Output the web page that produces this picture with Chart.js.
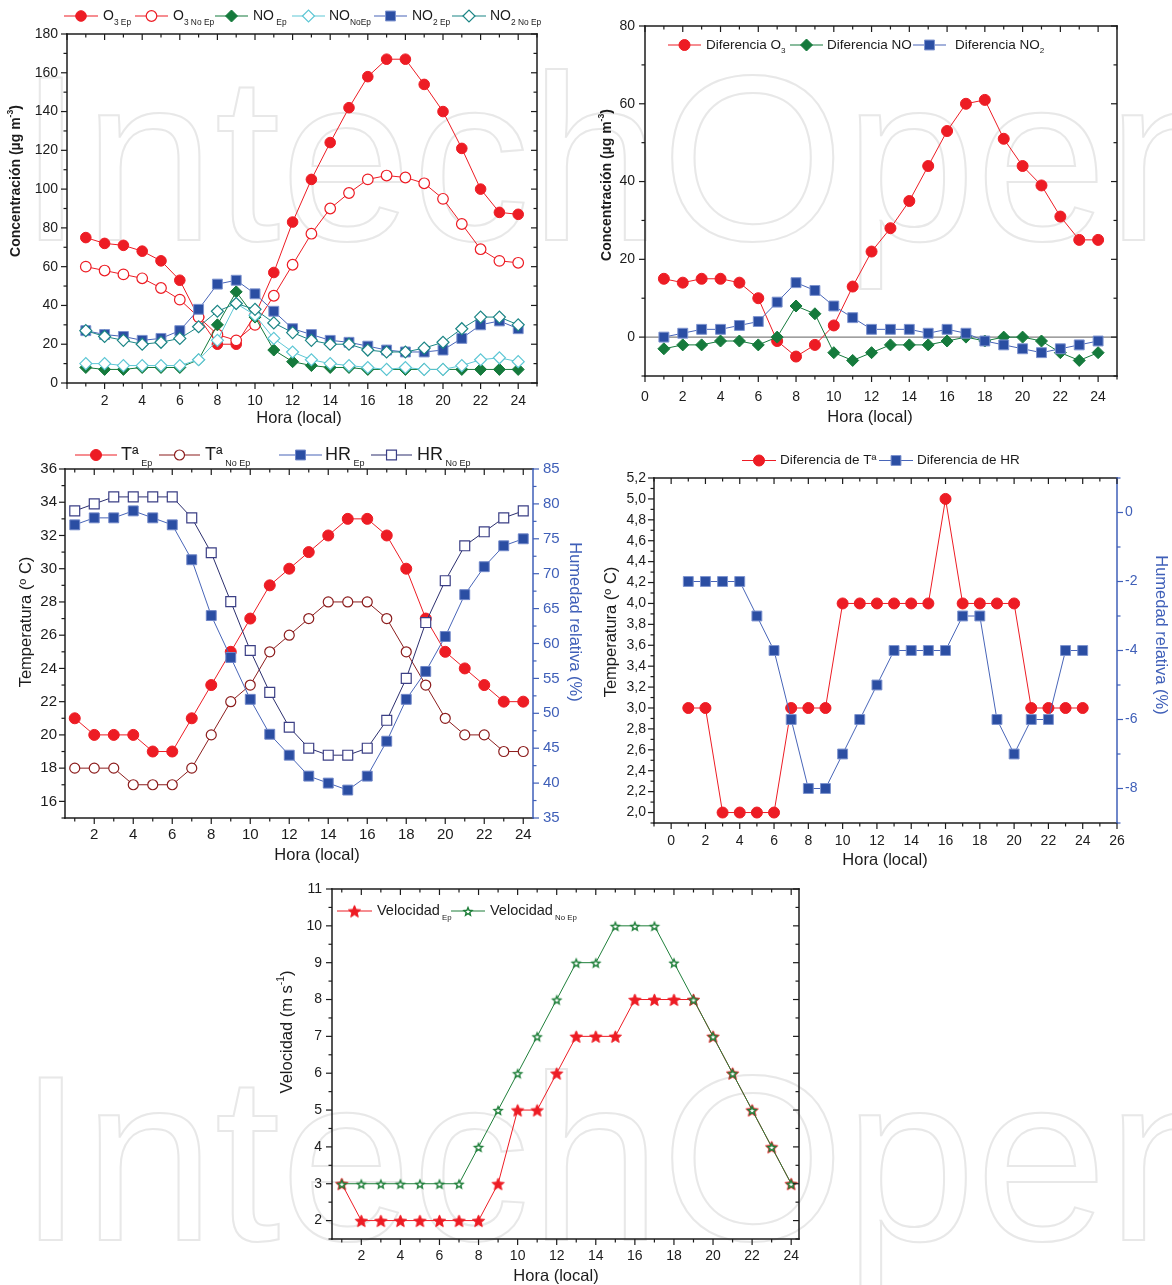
<!DOCTYPE html>
<html>
<head>
<title>Concentraciones y meteorología - Ep / No Ep</title>
<script src="https://cdn.jsdelivr.net/npm/chart.js"></script>
<style>
    body { margin: 0; background: #fff; }
    #page { position: relative; width: 1172px; height: 1285px; overflow: hidden; }
    canvas { position: absolute; }
    .wm {
        position: absolute; left: 18px; white-space: nowrap; line-height: 1;
        font-family: 'Liberation Sans', Arial, sans-serif; font-size: 236px;
        color: transparent; -webkit-text-stroke: 2px #e8e8e8;
    }
</style>
</head>
<body>
<div id="page">
    <div class="wm" style="top:40px">IntechOpen</div>
    <div class="wm" style="top:1040px">IntechOpen</div>
    <canvas id="c1" width="560" height="432" style="left:0;top:0"></canvas>
    <canvas id="c2" width="586" height="432" style="left:586px;top:0"></canvas>
    <canvas id="c3" width="590" height="434" style="left:0;top:436px"></canvas>
    <canvas id="c4" width="582" height="434" style="left:590px;top:436px"></canvas>
    <canvas id="c5" width="540" height="413" style="left:270px;top:872px"></canvas>
</div>

<script>
    // ---------- data ----------
    const hours = [1, 2, 3, 4, 5, 6, 7, 8, 9, 10, 11, 12, 13, 14, 15, 16, 17, 18, 19, 20, 21, 22, 23, 24];

    // concentraciones (ug m-3)
    const o3Ep    = [75, 72, 71, 68, 63, 53, 34, 20, 20, 35, 57, 83, 105, 124, 142, 158, 167, 167, 154, 140, 121, 100, 88, 87];
    const o3NoEp  = [60, 58, 56, 54, 49, 43, 34, 25, 22, 30, 45, 61, 77, 90, 98, 105, 107, 106, 103, 95, 82, 69, 63, 62];
    const noEp    = [8, 7, 7, 8, 8, 8, 12, 30, 47, 34, 17, 11, 9, 8, 8, 7, 7, 7, 7, 7, 7, 7, 7, 7];
    const noNoEp  = [10, 10, 9, 9, 9, 9, 12, 22, 41, 35, 23, 16, 12, 10, 9, 8, 7, 8, 7, 7, 9, 12, 13, 11];
    const no2Ep   = [27, 25, 24, 22, 23, 27, 38, 51, 53, 46, 37, 28, 25, 22, 21, 19, 17, 16, 16, 17, 23, 30, 32, 28];
    const no2NoEp = [27, 24, 22, 20, 21, 23, 29, 37, 41, 38, 31, 26, 22, 20, 20, 17, 16, 16, 18, 21, 28, 34, 34, 30];

    // diferencias
    const difO3  = [15, 14, 15, 15, 14, 10, -1, -5, -2, 3, 13, 22, 28, 35, 44, 53, 60, 61, 51, 44, 39, 31, 25, 25];
    const difNO  = [-3, -2, -2, -1, -1, -2, 0, 8, 6, -4, -6, -4, -2, -2, -2, -1, 0, -1, 0, 0, -1, -4, -6, -4];
    const difNO2 = [0, 1, 2, 2, 3, 4, 9, 14, 12, 8, 5, 2, 2, 2, 1, 2, 1, -1, -2, -3, -4, -3, -2, -1];

    // temperatura y humedad
    const tEp    = [21, 20, 20, 20, 19, 19, 21, 23, 25, 27, 29, 30, 31, 32, 33, 33, 32, 30, 27, 25, 24, 23, 22, 22];
    const tNoEp  = [18, 18, 18, 17, 17, 17, 18, 20, 22, 23, 25, 26, 27, 28, 28, 28, 27, 25, 23, 21, 20, 20, 19, 19];
    const hrEp   = [77, 78, 78, 79, 78, 77, 72, 64, 58, 52, 47, 44, 41, 40, 39, 41, 46, 52, 56, 61, 67, 71, 74, 75];
    const hrNoEp = [79, 80, 81, 81, 81, 81, 78, 73, 66, 59, 53, 48, 45, 44, 44, 45, 49, 55, 63, 69, 74, 76, 78, 79];

    const difT  = [3, 3, 2, 2, 2, 2, 3, 3, 3, 4, 4, 4, 4, 4, 4, 5, 4, 4, 4, 4, 3, 3, 3, 3];
    const difHR = [-2, -2, -2, -2, -3, -4, -6, -8, -8, -7, -6, -5, -4, -4, -4, -4, -3, -3, -6, -7, -6, -6, -4, -4];

    // velocidad del viento (m s-1)
    const velEp   = [3, 2, 2, 2, 2, 2, 2, 2, 3, 5, 5, 6, 7, 7, 7, 8, 8, 8, 8, 7, 6, 5, 4, 3];
    const velNoEp = [3, 3, 3, 3, 3, 3, 3, 4, 5, 6, 7, 8, 9, 9, 10, 10, 10, 9, 8, 7, 6, 5, 4, 3];

    // tick labels
    const hourTicks    = [2, 4, 6, 8, 10, 12, 14, 16, 18, 20, 22, 24];
    const hourTicks0   = [0, 2, 4, 6, 8, 10, 12, 14, 16, 18, 20, 22, 24];
    const hourTicks26  = [0, 2, 4, 6, 8, 10, 12, 14, 16, 18, 20, 22, 24, 26];
    const concTicks    = [0, 20, 40, 60, 80, 100, 120, 140, 160, 180];
    const difConcTicks = [0, 20, 40, 60, 80];
    const tempTicks    = [16, 18, 20, 22, 24, 26, 28, 30, 32, 34, 36];
    const hrTicks      = [35, 40, 45, 50, 55, 60, 65, 70, 75, 80, 85];
    const difTTicks    = [2.0, 2.2, 2.4, 2.6, 2.8, 3.0, 3.2, 3.4, 3.6, 3.8, 4.0, 4.2, 4.4, 4.6, 4.8, 5.0, 5.2];
    const difHRTicks   = [-8, -6, -4, -2, 0];
    const velTicks     = [2, 3, 4, 5, 6, 7, 8, 9, 10, 11];

    // ---------- look ----------
    const FONT = "'Liberation Sans', Arial, sans-serif";
    const INK = '#1c1c1c';
    const RED = '#ed1c24';
    const GREEN = '#157a3c';
    const CYAN = '#5ec7d5';
    const BLUE = '#2b4ea3';
    const BLUE_LINE = '#4865b8';
    const TEAL = '#1b8585';
    const DARKRED = '#8c1d1d';
    const NAVY = '#2c2f6e';
    const AXBLUE = '#3f5fb8';
    const GREEN5 = '#1f7f3a';

    function starImage(r, fill, stroke, lw) {
        const s = Math.ceil(2 * r + 2 * lw + 2);
        const c = document.createElement('canvas');
        c.width = c.height = s;
        const g = c.getContext('2d');
        g.beginPath();
        for (let k = 0; k < 10; k++) {
            const rad = k % 2 ? r * 0.45 : r;
            const a = -Math.PI / 2 + k * Math.PI / 5;
            const px = s / 2 + rad * Math.cos(a), py = s / 2 + 0.8 + rad * Math.sin(a);
            if (k) g.lineTo(px, py); else g.moveTo(px, py);
        }
        g.closePath();
        g.fillStyle = fill;
        g.fill();
        g.lineWidth = lw;
        g.strokeStyle = stroke;
        g.stroke();
        return c;
    }

    function series(values, o, i) {
        return {
            data: hours.map((h, k) => ({ x: h, y: values[k] })),
            yAxisID: o.axis || 'y',
            borderColor: o.line,
            borderWidth: 1,
            tension: 0,
            fill: false,
            pointStyle: o.shape,
            pointRadius: o.r,
            pointBackgroundColor: o.fill,
            pointBorderColor: o.edge || o.line,
            pointBorderWidth: o.bw || 1,
            order: -i
        };
    }

    // extra drawing: frame, minor ticks, titles with sub/superscripts, legends
    const decor = {};

    function eachTick(scale, step, fn) {
        const major = step[0], minor = step[1];
        const start = Math.ceil((scale.min - 1e-9) / minor);
        for (let k = start; k * minor <= scale.max + 1e-9; k++) {
            const v = k * minor;
            const q = v / major;
            fn(scale.getPixelForValue(v), Math.abs(q - Math.round(q)) < 1e-6);
        }
    }

    function drawParts(ctx, parts, size, bold, x, y, centered, small, drop) {
        const w = bold ? 'bold ' : '';
        small = small || 0.62;
        drop = drop || 0.5;
        let total = 0;
        parts.forEach(([t, kind]) => {
            ctx.font = w + (kind === 'n' ? size : size * small) + 'px ' + FONT;
            total += ctx.measureText(t).width;
        });
        let tx = centered ? x - total / 2 : x;
        ctx.textBaseline = 'middle';
        ctx.textAlign = 'left';
        parts.forEach(([t, kind]) => {
            const sz = kind === 'n' ? size : size * small;
            ctx.font = w + sz + 'px ' + FONT;
            const dy = kind === 'sub' ? size * drop : kind === 'sup' ? -size * 0.38 : 0;
            ctx.fillText(t, tx, y + dy);
            tx += ctx.measureText(t).width;
        });
    }

    function drawMarker(ctx, ds, x, y) {
        const st = ds.pointStyle, r = ds.pointRadius;
        if (typeof st !== 'string') {
            ctx.drawImage(st, x - st.width / 2, y - st.height / 2);
            return;
        }
        ctx.beginPath();
        if (st === 'circle') {
            ctx.arc(x, y, r, 0, Math.PI * 2);
        } else if (st === 'rect') {
            const h = r * Math.SQRT1_2;
            ctx.rect(x - h, y - h, 2 * h, 2 * h);
        } else {
            ctx.moveTo(x - r, y); ctx.lineTo(x, y - r); ctx.lineTo(x + r, y); ctx.lineTo(x, y + r); ctx.closePath();
        }
        ctx.fillStyle = ds.pointBackgroundColor;
        ctx.fill();
        ctx.lineWidth = ds.pointBorderWidth;
        ctx.strokeStyle = ds.pointBorderColor;
        ctx.stroke();
    }

    const decorPlugin = {
        id: 'decor',
        beforeDatasetsDraw(chart) {
            const d = decor[chart.canvas.id];
            if (!d || !d.zeroLine) return;
            const { ctx, chartArea: a } = chart;
            const py = chart.scales.y.getPixelForValue(0);
            ctx.save();
            ctx.strokeStyle = '#808080';
            ctx.lineWidth = 1.3;
            ctx.beginPath(); ctx.moveTo(a.left, py); ctx.lineTo(a.right, py); ctx.stroke();
            ctx.restore();
        },
        afterDraw(chart) {
            const d = decor[chart.canvas.id];
            if (!d) return;
            const { ctx, chartArea: a } = chart;
            const xs = chart.scales.x, ys = chart.scales.y, y2 = chart.scales.y2;
            const seg = (x1, y1, x2, y2_) => { ctx.beginPath(); ctx.moveTo(x1, y1); ctx.lineTo(x2, y2_); ctx.stroke(); };
            ctx.save();
            ctx.lineCap = 'square';

            // frame
            ctx.strokeStyle = INK;
            ctx.lineWidth = 1.5;
            seg(a.left, a.top, a.left, a.bottom);
            seg(a.left, a.bottom, a.right, a.bottom);
            seg(a.left, a.top, a.right, a.top);
            ctx.strokeStyle = y2 ? d.y2Color : INK;
            seg(a.right, a.top, a.right, a.bottom);

            // ticks
            ctx.lineCap = 'butt';
            ctx.lineWidth = 1.2;
            ctx.strokeStyle = INK;
            eachTick(xs, d.ticks.x, (px, major) => {
                const L = major ? 6 : 3.5;
                seg(px, a.bottom, px, a.bottom + L);
                seg(px, a.top, px, a.top + L);
            });
            eachTick(ys, d.ticks.y, (py, major) => {
                const L = major ? 6 : 3.5;
                seg(a.left - L, py, a.left, py);
                if (!y2) seg(a.right - L, py, a.right, py);
            });
            if (y2) {
                ctx.strokeStyle = d.y2Color;
                eachTick(y2, d.ticks.y2, (py, major) => {
                    const L = major ? 6 : 3.5;
                    seg(a.right, py, a.right + L, py);
                });
            }

            // axis titles
            d.titles.forEach(t => {
                ctx.save();
                ctx.translate(t.x, t.y);
                ctx.rotate((t.rot || 0) * Math.PI / 180);
                ctx.fillStyle = t.color || INK;
                drawParts(ctx, t.parts, t.size, t.bold, 0, 0, true);
                ctx.restore();
            });

            // legend
            const lg = d.legend;
            lg.items.forEach(it => {
                const ds = chart.data.datasets[it.ds];
                ctx.strokeStyle = ds.borderColor;
                ctx.lineWidth = 1.2;
                seg(it.x1, lg.y, it.x2, lg.y);
                drawMarker(ctx, ds, (it.x1 + it.x2) / 2, lg.y);
                ctx.fillStyle = INK;
                drawParts(ctx, it.parts, lg.size, false, it.tx, lg.y, false, lg.small, lg.drop);
            });
            ctx.restore();
        }
    };
    Chart.register(decorPlugin);

    function linearAxis(p) {
        return {
            type: 'linear',
            position: p.position,
            min: p.min,
            max: p.max,
            afterBuildTicks: s => { s.ticks = p.ticks.map(v => ({ value: v })); },
            afterFit: s => {
                if (p.position === 'bottom') s.height = p.size; else s.width = p.size;
                s.paddingTop = 0; s.paddingBottom = 0; s.paddingLeft = 0; s.paddingRight = 0;
            },
            grid: { display: false, drawTicks: false },
            border: { display: false },
            ticks: {
                color: p.color || INK,
                font: { family: FONT, size: p.font },
                padding: p.pad,
                maxRotation: 0,
                autoSkip: false,
                callback: p.fmt || (v => String(v))
            },
            title: { display: false }
        };
    }

    function makeChart(id, datasets, padding, scales) {
        return new Chart(document.getElementById(id), {
            type: 'line',
            data: { datasets: datasets },
            options: {
                responsive: false,
                animation: false,
                events: [],
                layout: { padding: padding },
                plugins: { legend: { display: false }, tooltip: { enabled: false } },
                scales: scales
            }
        });
    }

    // ---------- panel 1: concentraciones ----------
    decor.c1 = {
        ticks: { x: [2, 1], y: [20, 10] },
        titles: [
            { parts: [['Hora (local)', 'n']], x: 299, y: 418, size: 16.5 },
            { parts: [['Concentración (µg m', 'n'], ['-3', 'sup'], [')', 'n']], x: 16, y: 181, size: 14, bold: true, rot: -90 }
        ],
        legend: {
            y: 16, size: 14, small: 0.6, drop: 0.5, items: [
                { ds: 0, x1: 64, x2: 98, tx: 103, parts: [['O', 'n'], ['3 Ep', 'sub']] },
                { ds: 1, x1: 135, x2: 168, tx: 173, parts: [['O', 'n'], ['3 No Ep', 'sub']] },
                { ds: 2, x1: 215, x2: 248, tx: 253, parts: [['NO', 'n'], [' Ep', 'sub']] },
                { ds: 3, x1: 292, x2: 325, tx: 329, parts: [['NO', 'n'], ['NoEp', 'sub']] },
                { ds: 4, x1: 374, x2: 407, tx: 412, parts: [['NO', 'n'], ['2 Ep', 'sub']] },
                { ds: 5, x1: 452, x2: 486, tx: 490, parts: [['NO', 'n'], ['2 No Ep', 'sub']] }
            ]
        }
    };
    makeChart('c1', [
        series(o3Ep,    { line: RED, shape: 'circle', r: 5.3, fill: RED }, 0),
        series(o3NoEp,  { line: RED, shape: 'circle', r: 5.3, fill: '#fff', bw: 1.2 }, 1),
        series(noEp,    { line: GREEN, shape: 'rectRot', r: 6, fill: GREEN }, 2),
        series(noNoEp,  { line: CYAN, shape: 'rectRot', r: 6, fill: '#fff', bw: 1.2 }, 3),
        series(no2Ep,   { line: BLUE_LINE, shape: 'rect', r: 7, fill: BLUE, edge: '#7d93cf' }, 4),
        series(no2NoEp, { line: TEAL, shape: 'rectRot', r: 6, fill: '#fff', bw: 1.2 }, 5)
    ], { left: 0, top: 34, right: 23, bottom: 0 }, {
        x: linearAxis({ position: 'bottom', min: 0, max: 25, ticks: hourTicks, size: 49, font: 14, pad: 10 }),
        y: linearAxis({ position: 'left', min: 0, max: 180, ticks: concTicks, size: 67, font: 14, pad: 9 })
    });

    // ---------- panel 2: diferencias de concentración ----------
    decor.c2 = {
        zeroLine: true,
        ticks: { x: [2, 1], y: [20, 10] },
        titles: [
            { parts: [['Hora (local)', 'n']], x: 284, y: 417, size: 16.5 },
            { parts: [['Concentración (µg m', 'n'], ['-3', 'sup'], [')', 'n']], x: 21, y: 185, size: 14, bold: true, rot: -90 }
        ],
        legend: {
            y: 45, size: 13.5, small: 0.6, drop: 0.45, items: [
                { ds: 0, x1: 82, x2: 115, tx: 120, parts: [['Diferencia O', 'n'], ['3', 'sub']] },
                { ds: 1, x1: 204, x2: 237, tx: 241, parts: [['Diferencia NO', 'n']] },
                { ds: 2, x1: 327, x2: 360, tx: 369, parts: [['Diferencia NO', 'n'], ['2', 'sub']] }
            ]
        }
    };
    makeChart('c2', [
        series(difO3,  { line: RED, shape: 'circle', r: 5.5, fill: RED }, 0),
        series(difNO,  { line: GREEN, shape: 'rectRot', r: 6, fill: GREEN }, 1),
        series(difNO2, { line: BLUE_LINE, shape: 'rect', r: 7, fill: BLUE, edge: '#7d93cf' }, 2)
    ], { left: 0, top: 26, right: 55, bottom: 0 }, {
        x: linearAxis({ position: 'bottom', min: 0, max: 25, ticks: hourTicks0, size: 56, font: 14, pad: 13 }),
        y: linearAxis({ position: 'left', min: -10, max: 80, ticks: difConcTicks, size: 59, font: 14, pad: 10 })
    });

    // ---------- panel 3: temperatura y humedad relativa ----------
    decor.c3 = {
        ticks: { x: [2, 1], y: [2, 1], y2: [5, 2.5] },
        y2Color: AXBLUE,
        titles: [
            { parts: [['Hora (local)', 'n']], x: 317, y: 419, size: 16.5 },
            { parts: [['Temperatura (º C)', 'n']], x: 26, y: 186, size: 16.5, rot: -90 },
            { parts: [['Humedad relativa (%)', 'n']], x: 575, y: 186, size: 16.5, rot: 90, color: AXBLUE }
        ],
        legend: {
            y: 19, size: 18, small: 0.5, drop: 0.46, items: [
                { ds: 0, x1: 75, x2: 117, tx: 121, parts: [['Tª', 'n'], [' Ep', 'sub']] },
                { ds: 1, x1: 159, x2: 200, tx: 205, parts: [['Tª', 'n'], [' No Ep', 'sub']] },
                { ds: 2, x1: 279, x2: 322, tx: 325, parts: [['HR', 'n'], [' Ep', 'sub']] },
                { ds: 3, x1: 371, x2: 412, tx: 417, parts: [['HR', 'n'], [' No Ep', 'sub']] }
            ]
        }
    };
    makeChart('c3', [
        series(tEp,    { line: RED, shape: 'circle', r: 5.5, fill: RED }, 0),
        series(tNoEp,  { line: DARKRED, shape: 'circle', r: 5, fill: '#fff', bw: 1.2 }, 1),
        series(hrEp,   { line: BLUE_LINE, shape: 'rect', r: 7, fill: BLUE, edge: '#6f86c8', axis: 'y2' }, 2),
        series(hrNoEp, { line: NAVY, shape: 'rect', r: 7, fill: '#fff', edge: '#3b3f85', bw: 1.2, axis: 'y2' }, 3)
    ], { left: 0, top: 33, right: 0, bottom: 0 }, {
        x: linearAxis({ position: 'bottom', min: 0.5, max: 24.5, ticks: hourTicks, size: 52, font: 15, pad: 8 }),
        y: linearAxis({ position: 'left', min: 15, max: 36, ticks: tempTicks, size: 65, font: 15, pad: 8 }),
        y2: linearAxis({ position: 'right', min: 35, max: 85, ticks: hrTicks, size: 57, font: 15, pad: 10, color: AXBLUE })
    });

    // ---------- panel 4: diferencias de temperatura y HR ----------
    decor.c4 = {
        ticks: { x: [2, 1], y: [0.2, 0.1], y2: [2, 1] },
        y2Color: AXBLUE,
        titles: [
            { parts: [['Hora (local)', 'n']], x: 295, y: 424, size: 16.5 },
            { parts: [['Temperatura (º C)', 'n']], x: 21, y: 196, size: 16.5, rot: -90 },
            { parts: [['Humedad relativa (%)', 'n']], x: 571, y: 199, size: 16.5, rot: 90, color: AXBLUE }
        ],
        legend: {
            y: 24.5, size: 13.5, items: [
                { ds: 0, x1: 152, x2: 186, tx: 190, parts: [['Diferencia de Tª', 'n']] },
                { ds: 1, x1: 289, x2: 323, tx: 327, parts: [['Diferencia de HR', 'n']] }
            ]
        }
    };
    makeChart('c4', [
        series(difT,  { line: RED, shape: 'circle', r: 5.5, fill: RED }, 0),
        series(difHR, { line: BLUE_LINE, shape: 'rect', r: 7, fill: BLUE, edge: '#7d93cf', axis: 'y2' }, 1)
    ], { left: 0, top: 42, right: 0, bottom: 0 }, {
        x: linearAxis({ position: 'bottom', min: -1, max: 26, ticks: hourTicks26, size: 47, font: 14, pad: 10 }),
        y: linearAxis({ position: 'left', min: 1.9, max: 5.2, ticks: difTTicks, size: 64, font: 14, pad: 8,
            fmt: v => v.toFixed(1).replace('.', ',') }),
        y2: linearAxis({ position: 'right', min: -9, max: 1, ticks: difHRTicks, size: 55, font: 14, pad: 8, color: AXBLUE })
    });

    // ---------- panel 5: velocidad del viento ----------
    decor.c5 = {
        ticks: { x: [2, 1], y: [1, 0.5] },
        titles: [
            { parts: [['Hora (local)', 'n']], x: 286, y: 404, size: 16.5 },
            { parts: [['Velocidad (m s', 'n'], ['-1', 'sup'], [')', 'n']], x: 17, y: 160, size: 16.5, rot: -90 }
        ],
        legend: {
            y: 39, size: 14.5, small: 0.54, drop: 0.5, items: [
                { ds: 0, x1: 67, x2: 102, tx: 107, parts: [['Velocidad', 'n'], [' Ep', 'sub']] },
                { ds: 1, x1: 181, x2: 215, tx: 220, parts: [['Velocidad', 'n'], [' No Ep', 'sub']] }
            ]
        }
    };
    makeChart('c5', [
        series(velEp,   { line: RED, shape: starImage(6.4, RED, RED, 1), r: 7, fill: RED }, 0),
        series(velNoEp, { line: GREEN5, shape: starImage(4.2, '#fff', GREEN5, 1.4), r: 5, fill: '#fff' }, 1)
    ], { left: 0, top: 17, right: 11, bottom: 0 }, {
        x: linearAxis({ position: 'bottom', min: 0.5, max: 24.4, ticks: hourTicks, size: 46, font: 14, pad: 9 }),
        y: linearAxis({ position: 'left', min: 1.5, max: 11, ticks: velTicks, size: 62, font: 14, pad: 10 })
    });
</script>
</body>
</html>
